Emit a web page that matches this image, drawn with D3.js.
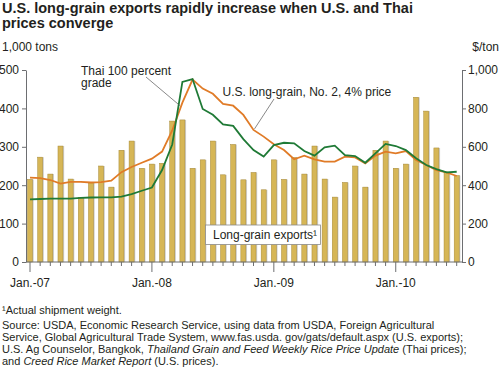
<!DOCTYPE html>
<html>
<head>
<meta charset="utf-8">
<script src="https://cdn.jsdelivr.net/npm/d3@7"></script>
<style>
  body { margin: 0; background: #fff; }
  text { font-family: "Liberation Sans", Arial, sans-serif; fill: #231f20; }
</style>
</head>
<body>
<svg width="501" height="376"></svg>
<script>
// Monthly data, Jan. 2007 - Jul. 2010
const startMonth = new Date(2007, 0, 1);

// Long-grain exports, 1,000 tons
const exportsKt = [
  215, 273, 229, 302, 216, 168, 206, 250, 195, 291, 315, 244,
  255, 257, 367, 370, 244, 266, 315, 227, 306, 214, 233, 188,
  266, 215, 272, 229, 302, 216, 169, 207, 250, 195, 291, 315,
  244, 255, 429, 393, 297, 233, 225
];

// U.S. long-grain, No. 2, 4% price, $/ton
const usPrice = [
  439, 437, 427, 408, 417, 417, 414, 416, 424, 468, 495, 517,
  538, 575, 685, 830, 950, 903, 876, 823, 814, 766, 688, 653,
  613, 583, 535, 554, 535, 523, 523, 549, 545, 514, 554, 575,
  566, 578, 531, 505, 479, 467, 448
];

// Thai 100 percent grade, $/ton
const thaiPrice = [
  326, 328, 330, 330, 330, 334, 336, 337, 337, 340, 354, 371,
  388, 479, 612, 938, 953, 797, 767, 717, 709, 640, 583, 549,
  609, 621, 618, 578, 554, 597, 606, 557, 552, 517, 566, 615,
  604, 583, 540, 505, 484, 467, 470
];

const leftTicks = [0, 100, 200, 300, 400, 500];
const rightTicks = [0, 200, 400, 600, 800, 1000];
const yearLabels = ["Jan.-07", "Jan.-08", "Jan.-09", "Jan.-10"];

const months = exportsKt.map((d, i) => d3.timeMonth.offset(startMonth, i));

const svg = d3.select("svg");
const axisColor = "#6d6e71";

// Scales: month index on x, tons on left, $/ton on right
const x = d3.scaleLinear().domain([0, months.length - 1]).range([30, 456.7]);
const yL = d3.scaleLinear().domain([0, 500]).range([262, 70]);
const yR = d3.scaleLinear().domain([0, 1000]).range([262, 70]);

// Title
svg.append("text")
  .attr("x", 2).attr("y", 13)
  .attr("font-size", "14.5px").attr("font-weight", "bold")
  .selectAll("tspan")
  .data(["U.S. long-grain exports rapidly increase when U.S. and Thai", "prices converge"])
  .enter().append("tspan")
  .attr("x", 2).attr("dy", (d, i) => i ? 15 : 0)
  .text(d => d);

// Unit labels
svg.append("text").attr("x", 2).attr("y", 51).attr("font-size", "12px").text("1,000 tons");
svg.append("text").attr("x", 499).attr("y", 51).attr("font-size", "12px")
  .attr("text-anchor", "end").text("$/ton");

// Bars with light shadow on the right
const bw = 5;
const bars = svg.append("g");
bars.selectAll("rect.shadow")
  .data(exportsKt).enter().append("rect")
  .attr("class", "shadow")
  .attr("x", (d, i) => x(i) - bw / 2 + 1.2)
  .attr("y", d => yL(d))
  .attr("width", bw)
  .attr("height", d => yL(0) - yL(d))
  .attr("fill", "#cfcfcf");
bars.selectAll("rect.bar")
  .data(exportsKt).enter().append("rect")
  .attr("class", "bar")
  .attr("x", (d, i) => x(i) - bw / 2)
  .attr("y", d => yL(d))
  .attr("width", bw)
  .attr("height", d => yL(0) - yL(d))
  .attr("fill", "#d6b656")
  .attr("stroke", "#a88a36")
  .attr("stroke-width", 0.5);

// Left axis
const leftAxis = svg.append("g")
  .attr("transform", "translate(26,0)")
  .call(d3.axisLeft(yL).tickValues(leftTicks).tickSize(4).tickSizeOuter(0).tickPadding(3));
leftAxis.selectAll("path, line").attr("stroke", axisColor);
leftAxis.selectAll("text").attr("font-size", "12px").attr("font-family", null).attr("fill", null);

// Right axis
const rightAxis = svg.append("g")
  .attr("transform", "translate(462,0)")
  .call(d3.axisRight(yR).tickValues(rightTicks).tickFormat(d3.format(",")).tickSize(4).tickSizeOuter(0).tickPadding(2));
rightAxis.selectAll("path, line").attr("stroke", axisColor);
rightAxis.selectAll("text").attr("font-size", "12px").attr("font-family", null).attr("fill", null);

// Bottom axis: baseline, monthly ticks, longer ticks at January
svg.append("line")
  .attr("x1", 26).attr("x2", 462).attr("y1", yL(0)).attr("y2", yL(0))
  .attr("stroke", axisColor);
svg.append("g").selectAll("line")
  .data(months).enter().append("line")
  .attr("x1", (d, i) => x(i)).attr("x2", (d, i) => x(i))
  .attr("y1", yL(0))
  .attr("y2", d => yL(0) + (d.getMonth() === 0 ? 10 : 4))
  .attr("stroke", axisColor);
const janIdx = months.map((d, i) => i).filter(i => months[i].getMonth() === 0);
svg.append("g").selectAll("text")
  .data(janIdx).enter().append("text")
  .attr("x", i => x(i)).attr("y", 287)
  .attr("text-anchor", "middle").attr("font-size", "12px")
  .text((d, k) => yearLabels[k]);

// Price lines
const line = arr => d3.line()
  .x((d, i) => x(i))
  .y(d => yR(d))(arr);
svg.append("path").attr("d", line(usPrice))
  .attr("fill", "none").attr("stroke", "#e07b27").attr("stroke-width", 1.8);
svg.append("path").attr("d", line(thaiPrice))
  .attr("fill", "none").attr("stroke", "#1f7a36").attr("stroke-width", 1.8);

// Line labels with leader lines
const thaiLbl = svg.append("text").attr("font-size", "12px");
thaiLbl.append("tspan").attr("x", 81).attr("y", 74.5).text("Thai 100 percent");
thaiLbl.append("tspan").attr("x", 81).attr("y", 87).text("grade");
svg.append("line")
  .attr("x1", 146).attr("y1", 77)
  .attr("x2", (x(14) + x(15)) / 2 + 2.5).attr("y2", yR((thaiPrice[14] + thaiPrice[15]) / 2 + 40))
  .attr("stroke", "#555").attr("stroke-width", 0.7);

svg.append("text").attr("x", 222.5).attr("y", 96).attr("font-size", "12px")
  .text("U.S. long-grain, No. 2, 4% price");
svg.append("line")
  .attr("x1", 274).attr("y1", 99)
  .attr("x2", x(22) + 1).attr("y2", yR(usPrice[22]) - 1)
  .attr("stroke", "#555").attr("stroke-width", 0.7);

// Bar label box
svg.append("rect")
  .attr("x", 205.5).attr("y", 225).attr("width", 115).attr("height", 19.5)
  .attr("fill", "#fff").attr("stroke", "#8a8a8a").attr("stroke-width", 0.8);
svg.append("text").attr("x", 213).attr("y", 239).attr("font-size", "12px")
  .text("Long-grain exports\u00b9");

// Footnote and source
svg.append("text").attr("x", 2).attr("y", 314).attr("font-size", "11px")
  .text("\u00b9Actual shipment weight.");
const src = [
  [["Source: USDA, Economic Research Service, using data from USDA, Foreign Agricultural", false]],
  [["Service, Global Agricultural Trade System, www.fas.usda. gov/gats/default.aspx (U.S. exports);", false]],
  [["U.S. Ag Counselor, Bangkok, ", false], ["Thailand Grain and Feed Weekly Rice Price Update", true], [" (Thai prices);", false]],
  [["and ", false], ["Creed Rice Market Report", true], [" (U.S. prices).", false]]
];
src.forEach((parts, k) => {
  const t = svg.append("text").attr("x", 2).attr("y", 329 + k * 12).attr("font-size", "11px");
  parts.forEach(p => t.append("tspan")
    .attr("font-style", p[1] ? "italic" : null)
    .text(p[0]));
});
</script>
</body>
</html>
